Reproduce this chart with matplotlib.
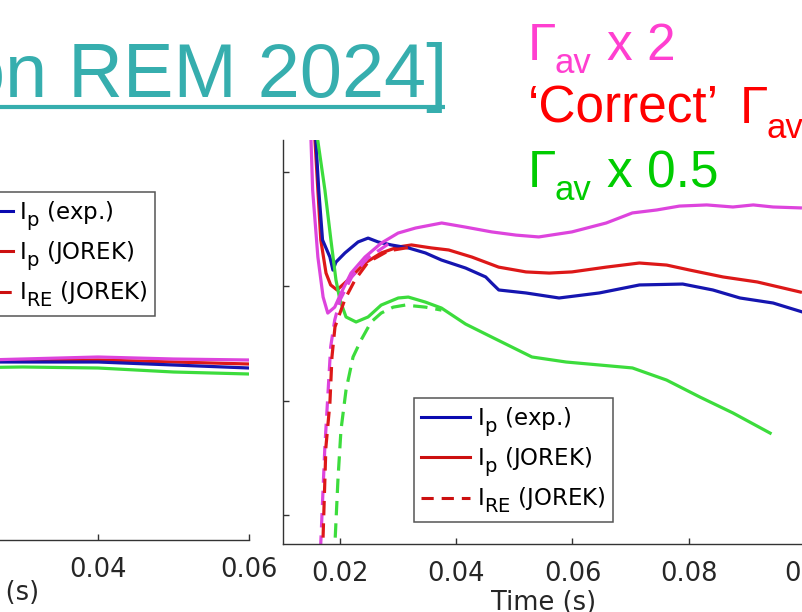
import matplotlib
matplotlib.use("Agg")
import matplotlib.pyplot as plt
from matplotlib.lines import Line2D
import matplotlib._mathtext as _mt

# larger, lower subscripts, like the MATLAB legend in the reference
_mt.SHRINK_FACTOR = 0.85
try:
    _mt.DejaVuSansFontConstants.sub1 = 0.55
    _mt.DejaVuSansFontConstants.sub2 = 0.65
except Exception:
    pass

W, H = 803, 612

# ---------------- data (right panel: time in s, current in kA) ----------------
t_blue = [0.01565, 0.01635, 0.01700, 0.01827, 0.01879, 0.01931, 0.02086, 0.02311, 0.02484,
          0.02657, 0.02882, 0.03176, 0.03470, 0.03746, 0.04161, 0.04507, 0.04611, 0.04732,
          0.05199, 0.05769, 0.06461, 0.07152, 0.07896, 0.08415, 0.08882, 0.09452, 0.09953]
v_blue = [272.7, 242.1, 220.3, 212.8, 207.1, 210.6, 214.6, 219.4, 221.1,
          219.4, 218.1, 216.8, 214.6, 211.5, 208.0, 204.1, 201.4, 198.4,
          197.1, 194.9, 197.1, 200.6, 201.0, 198.4, 194.9, 192.7, 188.8]

t_red = [0.0155, 0.0162, 0.0167, 0.0176, 0.0184, 0.0195, 0.0214, 0.0243, 0.0271, 0.0300,
         0.0323, 0.0357, 0.0387, 0.0427, 0.0473, 0.0520, 0.0560, 0.0599, 0.0658, 0.0715,
         0.0762, 0.0802, 0.0859, 0.0918, 0.0992]
v_red = [272.7, 242.1, 220.3, 205.8, 200.6, 198.4, 202.8, 210.2, 214.6, 217.2,
         218.1, 216.8, 215.9, 212.8, 208.4, 206.3, 205.8, 206.3, 208.4, 210.2,
         209.3, 207.1, 204.1, 201.9, 197.5]

t_mag = [0.0149, 0.0153, 0.0162, 0.0171, 0.0179, 0.0191, 0.0202, 0.0219, 0.0243, 0.0271,
         0.0300, 0.0330, 0.0375, 0.0416, 0.0461, 0.0503, 0.0542, 0.0599, 0.0658, 0.0703,
         0.0745, 0.0784, 0.0831, 0.0876, 0.0911, 0.0945, 0.0992]
v_mag = [273.0, 242.1, 212.8, 195.3, 188.3, 190.9, 197.1, 205.8, 212.8, 218.9,
         223.3, 225.5, 227.7, 225.9, 223.8, 222.4, 221.6, 223.8, 227.7, 232.1,
         233.4, 235.1, 235.6, 234.7, 235.6, 234.7, 234.3]

t_grn = [0.01568, 0.01741, 0.01844, 0.01931, 0.02000, 0.02104, 0.02277, 0.02484, 0.02709,
         0.03003, 0.03176, 0.03470, 0.03746, 0.04161, 0.04611, 0.05302, 0.05890, 0.06461,
         0.07031, 0.07619, 0.08190, 0.08761, 0.09400]
v_grn = [272.7, 242.1, 220.3, 202.8, 194.0, 186.6, 184.4, 186.6, 191.8,
         194.9, 195.3, 193.1, 190.5, 183.5, 177.8, 169.1, 166.9, 165.6,
         164.3, 159.0, 151.6, 144.6, 135.8]

# runaway electron currents (dashed)
t_red_re = [0.01697, 0.01706, 0.01758, 0.01827, 0.01862, 0.01914, 0.02086, 0.02259, 0.02484,
            0.02830, 0.03228]
v_red_re = [80.3, 87.7, 129.7, 149.0, 169.1, 182.2, 194.4, 202.8, 210.6, 215.5, 217.2]

t_mag_re = [0.0165, 0.0167, 0.0174, 0.0179, 0.0184, 0.0191, 0.0200, 0.0220, 0.0248, 0.0283]
v_mag_re = [75.0, 87.7, 129.7, 151.6, 173.5, 185.3, 194.0, 204.0, 212.4, 218.5]

t_grn_re = [0.01905, 0.01914, 0.01965, 0.02017, 0.02104, 0.02225, 0.02363, 0.02536, 0.02709,
            0.02916, 0.03124, 0.03470, 0.03746]
v_grn_re = [80.3, 87.7, 115.3, 137.1, 154.6, 169.1, 176.5, 184.4, 188.3,
            190.9, 191.8, 190.9, 189.6]

# ---------------- data (left panel) ----------------
t_left = [0.02, 0.03, 0.04, 0.05, 0.06]
l_mag = [134.25, 135.75, 137.25, 135.75, 135.0]
l_red = [133.5, 134.25, 135.0, 133.5, 132.0]
l_blue = [133.5, 133.5, 133.5, 131.25, 129.0]
l_grn = [129.0, 129.75, 129.0, 126.0, 124.5]

xticks_right = [0.02, 0.04, 0.06, 0.08, 0.1]
xtick_labels_right = ["0.02", "0.04", "0.06", "0.08", "0.1"]
xticks_left = [0.04, 0.06]
xtick_labels_left = ["0.04", "0.06"]
yticks_right = [100, 150, 200, 250]

legend_labels = [r"$\mathregular{I_p}$ (exp.)", r"$\mathregular{I_p}$ (JOREK)",
                 r"$\mathregular{I_{RE}}$ (JOREK)"]

C_BLUE = "#1515B0"
C_RED = "#DD1818"
C_MAG = "#DD44DD"
C_GRN = "#3CDC3C"
TEAL = "#36AEAE"

def rect(l, t, r, b):
    return [l / W, 1 - b / H, (r - l) / W, (b - t) / H]

def fx(px):
    return px / W

def fy(py):
    return 1 - py / H

fig = plt.figure(figsize=(W / 100, H / 100), dpi=100)
fig.patch.set_facecolor("white")

TICK_FS = 18.5
LW = 2.3
DASH = (0, (4.5, 2.5))

def style_axes(ax):
    for s in ["top", "right"]:
        ax.spines[s].set_visible(False)
    for s in ["left", "bottom"]:
        ax.spines[s].set_color("#333333")
        ax.spines[s].set_linewidth(1.0)
    ax.tick_params(direction="in", length=4, width=1, color="#333333",
                   labelsize=TICK_FS, labelcolor="#262626", pad=12)
    ax.set_facecolor("none")

# ---------------- left panel ----------------
axL = fig.add_axes(rect(-204, 140, 249, 540))
style_axes(axL)
axL.plot(t_left, l_red, color=C_RED, lw=LW)
axL.plot(t_left, l_blue, color=C_BLUE, lw=LW)
axL.plot(t_left, l_grn, color=C_GRN, lw=LW)
axL.plot(t_left, l_mag, color=C_MAG, lw=LW)
axL.set_xlim(0, 0.06)
axL.set_ylim(0, 300)
axL.set_xticks(xticks_left)
axL.set_xticklabels(xtick_labels_left)
axL.set_yticks([])
axL.set_xlabel("Time (s)", fontsize=TICK_FS, color="#262626", va="top")
axL.xaxis.set_label_coords(0.4216, -0.1)

# ---------------- right panel ----------------
axR = fig.add_axes(rect(283, 140, 805, 544))
style_axes(axR)
axR.plot(t_red, v_red, color=C_RED, lw=LW)
axR.plot(t_blue, v_blue, color=C_BLUE, lw=LW)
axR.plot(t_grn, v_grn, color=C_GRN, lw=LW)
axR.plot(t_mag, v_mag, color=C_MAG, lw=LW)
axR.plot(t_grn_re, v_grn_re, color=C_GRN, lw=LW, ls=DASH)
axR.plot(t_mag_re, v_mag_re, color=C_MAG, lw=LW, ls=DASH)
axR.plot(t_red_re, v_red_re, color=C_RED, lw=LW, ls=DASH)
axR.set_xlim(0.0102, 0.1)
axR.set_ylim(87.3, 264.0)
axR.set_xticks(xticks_right)
axR.set_xticklabels(xtick_labels_right)
axR.set_yticks(yticks_right)
axR.tick_params(axis="y", labelleft=False)
axR.set_xlabel("Time (s)", fontsize=TICK_FS, color="#262626", va="top")
axR.xaxis.set_label_coords(0.5, -0.114)

# ---------------- legends ----------------
def make_handles():
    return [Line2D([], [], color="#0A0AB0", lw=2.2),
            Line2D([], [], color="#CC1010", lw=2.2),
            Line2D([], [], color="#CC1010", lw=2.2, ls=(0, (4, 2.6)))]

leg_kw = dict(fontsize=16.5, frameon=True, fancybox=False, framealpha=1,
              edgecolor="#555555", handlelength=2.15, handletextpad=0.3,
              labelspacing=0.33, borderpad=0.3, borderaxespad=0,
              bbox_transform=fig.transFigure)

legR = axR.legend(make_handles(), legend_labels, loc="upper left",
                  bbox_to_anchor=(fx(414), fy(398)), **leg_kw)
legR.get_frame().set_linewidth(1.1)
legL = axL.legend(make_handles(), legend_labels, loc="upper right",
                  bbox_to_anchor=(fx(155), fy(192)), **leg_kw)
legL.get_frame().set_linewidth(1.1)

# ---------------- slide texts ----------------
SANS = ["Liberation Sans", "DejaVu Sans"]
NARROW = ["Liberation Sans Narrow", "Liberation Sans", "DejaVu Sans"]

fig.text(fx(447), fy(97), "on REM 2024]", ha="right", va="baseline",
         fontsize=54.5, family=SANS, color=TEAL)
fig.add_artist(Line2D([0, fx(445)], [fy(107), fy(107)], transform=fig.transFigure,
                      color=TEAL, lw=3.0, solid_capstyle="butt"))

BIG = 37
SUB = 25
rows = [
    ("#FF3FD0", 60, [("Γ", 528, 0, BIG), ("av", 555, 13, SUB), ("x 2", 607, 0, BIG)]),
    ("#FF0000", 123, [("‘Correct’", 528, 0, BIG), ("Γ", 740, 0, BIG), ("av", 767, 15, SUB)]),
    ("#00CC00", 187, [("Γ", 528, 0, BIG), ("av", 555, 13, SUB), ("x 0.5", 607, 0, BIG)]),
]
for color, base, pieces in rows:
    for txt, x, dy, fs in pieces:
        fig.text(fx(x), fy(base + dy), txt, ha="left", va="baseline",
                 fontsize=fs, family=NARROW, color=color)

fig.savefig("out.png", dpi=100, facecolor="white")
